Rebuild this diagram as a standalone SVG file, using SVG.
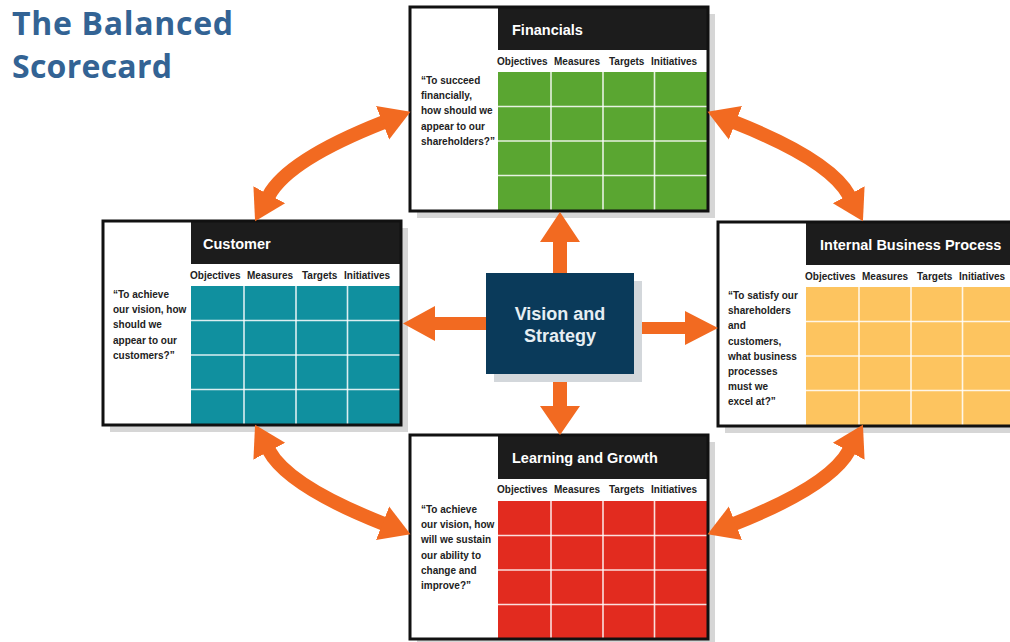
<svg xmlns="http://www.w3.org/2000/svg" width="1010" height="642" viewBox="0 0 1010 642">
<style>
.shadow{fill:#d6d6d6}
.bg{fill:#ffffff}
.hdr{fill:#1c1c1c}
.border{fill:none;stroke:#111111;stroke-width:3}
.gl{stroke:#ffffff;stroke-width:1.6;stroke-opacity:0.85;fill:none}
.ttl{font-family:"Liberation Sans",Arial,sans-serif;font-weight:bold;font-size:14.5px;fill:#ffffff}
.col{font-family:"Liberation Sans",Arial,sans-serif;font-weight:bold;font-size:10px;fill:#222222}
.q{font-family:"Liberation Sans",Arial,sans-serif;font-weight:bold;font-size:10px;fill:#222222}
.arr{fill:#f26a21}
.carr{fill:none;stroke:#f26a21;stroke-width:14}
.title{font-family:"Open Sans","Liberation Sans",sans-serif;font-weight:bold;font-size:32px;fill:#336394}
.vs{font-family:"Liberation Sans",Arial,sans-serif;font-weight:bold;font-size:18px;fill:#e6eef3}
</style>
<defs>
<marker id="head" viewBox="0 -19 31 38" refX="1" refY="0" markerWidth="31" markerHeight="38" markerUnits="userSpaceOnUse" orient="auto-start-reverse">
<path d="M0,-18 L30,0 L0,18 Z" fill="#f26a21"/>
</marker>
<g id="gridlines">
<line class="gl" x1="141" y1="65" x2="141" y2="203"/>
<line class="gl" x1="193" y1="65" x2="193" y2="203"/>
<line class="gl" x1="244.5" y1="65" x2="244.5" y2="203"/>
<line class="gl" x1="88" y1="99.5" x2="298" y2="99.5"/>
<line class="gl" x1="88" y1="134" x2="298" y2="134"/>
<line class="gl" x1="88" y1="168.5" x2="298" y2="168.5"/>
</g>
<g id="colhdr">
<text class="col" x="87" y="57.5">Objectives</text>
<text class="col" x="144" y="57.5">Measures</text>
<text class="col" x="199" y="57.5">Targets</text>
<text class="col" x="241" y="57.5">Initiatives</text>
</g>
</defs>

<text class="title" x="12" y="35" textLength="221" lengthAdjust="spacing">The Balanced</text>
<text class="title" x="12" y="78" textLength="160" lengthAdjust="spacing">Scorecard</text>

<g id="financials" transform="translate(410,7)">
<rect class="shadow" x="7" y="7" width="298" height="204"/>
<rect class="bg" x="0" y="0" width="298" height="204"/>
<rect class="hdr" x="88" y="0" width="210" height="43"/>
<rect x="88" y="65" width="210" height="139" fill="#5aa631"/>
<use href="#gridlines"/>
<use href="#colhdr"/>
<text class="ttl" x="102" y="28">Financials</text>
<text class="q" x="11" y="77">“To succeed<tspan x="11" dy="15.2">financially,</tspan><tspan x="11" dy="15.2">how should we</tspan><tspan x="11" dy="15.2">appear to our</tspan><tspan x="11" dy="15.2">shareholders?”</tspan></text>
<rect class="border" x="0" y="0" width="298" height="204"/>
</g>

<g id="customer" transform="translate(103,221)">
<rect class="shadow" x="7" y="7" width="298" height="204"/>
<rect class="bg" x="0" y="0" width="298" height="204"/>
<rect class="hdr" x="88" y="0" width="210" height="43"/>
<rect x="88" y="65" width="210" height="139" fill="#10909f"/>
<use href="#gridlines"/>
<use href="#colhdr"/>
<text class="ttl" x="100" y="28">Customer</text>
<text class="q" x="10" y="77">“To achieve<tspan x="10" dy="15.2">our vision, how</tspan><tspan x="10" dy="15.2">should we</tspan><tspan x="10" dy="15.2">appear to our</tspan><tspan x="10" dy="15.2">customers?”</tspan></text>
<rect class="border" x="0" y="0" width="298" height="204"/>
</g>

<g id="internal" transform="translate(718,222)">
<rect class="shadow" x="7" y="7" width="298" height="204"/>
<rect class="bg" x="0" y="0" width="298" height="204"/>
<rect class="hdr" x="88" y="0" width="210" height="43"/>
<rect x="88" y="65" width="210" height="139" fill="#fdc45f"/>
<use href="#gridlines"/>
<use href="#colhdr"/>
<text class="ttl" x="102" y="28">Internal Business Process</text>
<text class="q" x="10" y="77">“To satisfy our<tspan x="10" dy="15.2">shareholders</tspan><tspan x="10" dy="15.2">and</tspan><tspan x="10" dy="15.2">customers,</tspan><tspan x="10" dy="15.2">what business</tspan><tspan x="10" dy="15.2">processes</tspan><tspan x="10" dy="15.2">must we</tspan><tspan x="10" dy="15.2">excel at?”</tspan></text>
<rect class="border" x="0" y="0" width="298" height="204"/>
</g>

<g id="learning" transform="translate(410,435)">
<rect class="shadow" x="7" y="7" width="298" height="204"/>
<rect class="bg" x="0" y="0" width="298" height="204"/>
<rect class="hdr" x="88" y="0" width="210" height="44"/>
<rect x="88" y="66" width="210" height="138" fill="#e22b1f"/>
<g transform="translate(0,1)"><use href="#gridlines"/></g>
<use href="#colhdr"/>
<text class="ttl" x="102" y="28">Learning and Growth</text>
<text class="q" x="11" y="78">“To achieve<tspan x="11" dy="15.2">our vision, how</tspan><tspan x="11" dy="15.2">will we sustain</tspan><tspan x="11" dy="15.2">our ability to</tspan><tspan x="11" dy="15.2">change and</tspan><tspan x="11" dy="15.2">improve?”</tspan></text>
<rect class="border" x="0" y="0" width="298" height="204"/>
</g>

<g id="connectors">
<polygon class="arr" points="553,280 553,242 540,242 560,212 580,242 567,242 567,280"/>
<polygon class="arr" points="553,370 553,406 540,406 560,435 580,406 567,406 567,370"/>
<polygon class="arr" points="490,317 435,317 435,306 403,323.5 435,341 435,330 490,330"/>
<polygon class="arr" points="630,322 685,322 685,311 718,328 685,345 685,334 630,334"/>
<path class="carr" d="M268.8,195.7 Q288,160 383.5,122.3" marker-start="url(#head)" marker-end="url(#head)"/>
<path class="carr" d="M849.2,195.7 Q830,160 734.5,122.3" marker-start="url(#head)" marker-end="url(#head)"/>
<path class="carr" d="M268.8,450.3 Q288,486 383.5,523.7" marker-start="url(#head)" marker-end="url(#head)"/>
<path class="carr" d="M849.2,450.3 Q830,486 734.5,523.7" marker-start="url(#head)" marker-end="url(#head)"/>
</g>

<g id="vision">
<rect x="494" y="281" width="148" height="101" fill="#d3d7db"/>
<rect x="486" y="273" width="148" height="101" fill="#0a3a5a"/>
<text class="vs" x="560" y="320" text-anchor="middle">Vision and</text>
<text class="vs" x="560" y="342" text-anchor="middle">Strategy</text>
</g>
</svg>
